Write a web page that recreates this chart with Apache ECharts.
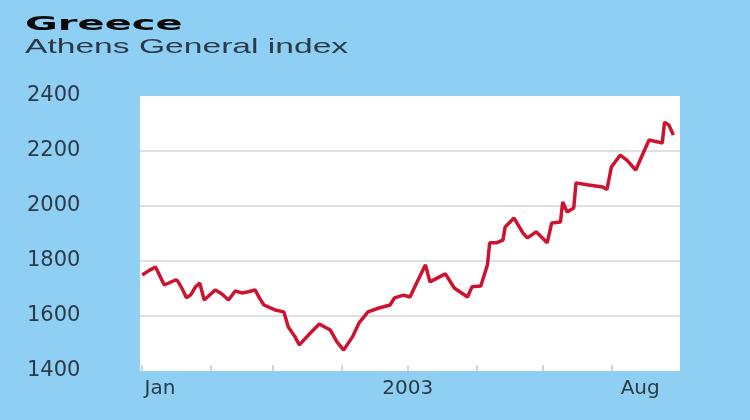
<!DOCTYPE html>
<html>
<head>
<meta charset="utf-8">
<title>Greece - Athens General index</title>
<script src="https://cdn.jsdelivr.net/npm/echarts@6/dist/echarts.min.js"></script>
<style>
  html, body { margin: 0; padding: 0; background: #8fcff4; }
  #chart { width: 750px; height: 420px; }
</style>
</head>
<body>
<div id="chart"></div>
<script>
// day of year 2003 (Jan 1 = 1) and index close
const days = [1, 4, 7, 9, 11, 13, 16, 17, 19, 21, 23, 25, 27, 29, 32, 34, 37, 40, 43, 46,
  49, 52, 54, 56, 61, 65, 67, 70, 72, 77, 81, 86, 89, 92, 96, 99, 103, 108, 113, 115,
  119, 122, 125, 129, 131, 138, 142, 148, 150, 154, 157, 158, 161, 164, 165, 169, 173, 175, 179, 184,
  186, 190, 191, 193, 196, 197, 202, 209, 211, 213, 217, 220, 224, 226, 230, 234, 236, 237, 239, 241];
const athensIndex = [1749, 1765, 1778, 1745, 1713, 1720, 1731, 1728, 1700, 1666, 1678, 1705, 1720, 1658, 1680, 1695, 1680, 1658, 1691, 1684,
  1688, 1695, 1665, 1640, 1622, 1615, 1560, 1525, 1495, 1538, 1571, 1549, 1506, 1476, 1524, 1575, 1615, 1629, 1640, 1666,
  1676, 1669, 1720, 1786, 1724, 1753, 1702, 1669, 1706, 1709, 1786, 1866, 1866, 1876, 1924, 1956, 1902, 1884, 1906, 1866,
  1938, 1942, 2015, 1978, 1993, 2084, 2077, 2069, 2060, 2142, 2185, 2167, 2131, 2167, 2240, 2233, 2229, 2305, 2294, 2258];

// month starts for the small ticks, and where the three labels sit
const monthStarts = [1, 32, 60, 91, 121, 152, 182, 213];
const xLabelDays = [9, 121, 226];
const xLabelTexts = ['Jan', '2003', 'Aug'];

const chart = echarts.init(document.getElementById('chart'));

const option = {
  backgroundColor: '#8fcff4',
  animation: false,
  graphic: [
    {
      type: 'text',
      x: 25, y: 15,
      scaleX: 2.0,
      style: {
        text: 'Greece',
        font: 'bold 20px "DejaVu Sans"',
        fill: '#0a0a0a',
        textVerticalAlign: 'top'
      }
    },
    {
      type: 'text',
      x: 25, y: 37,
      scaleX: 1.6,
      style: {
        text: 'Athens General index',
        font: '21px "Liberation Sans"',
        fill: '#2b3a46',
        textVerticalAlign: 'top'
      }
    }
  ],
  grid: {
    left: 140, right: 70, top: 96, bottom: 49,
    show: true,
    backgroundColor: '#ffffff',
    borderWidth: 0
  },
  xAxis: {
    type: 'value',
    min: 0,
    max: 244,
    axisLine: { show: false },
    splitLine: { show: false },
    axisTick: {
      show: true,
      inside: true,
      length: 6,
      customValues: monthStarts,
      lineStyle: { color: '#c8c8c8', width: 1.5 }
    },
    axisLabel: {
      customValues: xLabelDays,
      formatter: function (v) { return xLabelTexts[xLabelDays.indexOf(v)]; },
      color: '#2b3a46',
      fontFamily: 'DejaVu Sans',
      fontSize: 20,
      margin: 8
    }
  },
  yAxis: {
    type: 'value',
    min: 1400,
    max: 2400,
    interval: 200,
    axisLine: { show: false },
    axisTick: { show: false },
    splitLine: {
      showMinLine: false,
      showMaxLine: false,
      lineStyle: { color: '#d6d6d6', width: 1.5 }
    },
    axisLabel: {
      align: 'left',
      margin: 113,
      formatter: function (v) { return String(v); },
      color: '#2b3a46',
      fontFamily: 'DejaVu Sans',
      fontSize: 21,
      padding: [0, 0, 10, 0]
    }
  },
  series: [{
    type: 'line',
    data: days.map((d, i) => [d, athensIndex[i]]),
    showSymbol: false,
    lineStyle: { color: '#cc1430', width: 3.5 }
  }]
};

chart.setOption(option);
</script>
</body>
</html>
